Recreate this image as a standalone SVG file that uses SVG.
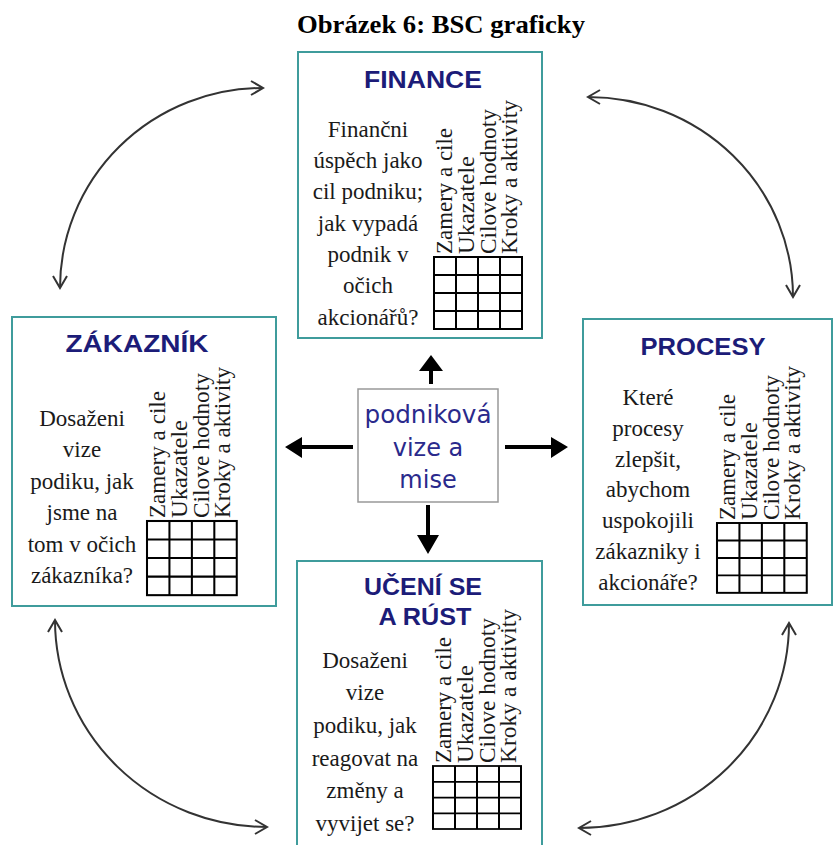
<svg xmlns="http://www.w3.org/2000/svg" width="835" height="845" viewBox="0 0 835 845">
<style>
.box{fill:#fff;stroke:#3f9c9c;stroke-width:2}
.ttl{font-family:"Liberation Sans",Arial,sans-serif;font-weight:bold;font-size:23px;fill:#1c1c78;text-anchor:middle}
.body{font-family:"Liberation Serif","Times New Roman",serif;font-size:23px;fill:#1a1a1a;text-anchor:middle}
.vt{font-family:"Liberation Serif","Times New Roman",serif;font-size:24px;fill:#1a1a1a}
.grid{fill:none;stroke:#000;stroke-width:2}
.cen{font-family:"DejaVu Sans",Verdana,sans-serif;font-size:24px;fill:#2a2a8c;text-anchor:middle}
.curve{fill:none;stroke:#333;stroke-width:2}
.blk{fill:#000}
.cap{font-family:"Liberation Serif","Times New Roman",serif;font-weight:bold;font-size:26px;fill:#000;text-anchor:middle}
</style>
<defs>
<marker id="v" markerUnits="userSpaceOnUse" markerWidth="16" markerHeight="16" viewBox="0 0 16 16" refX="14" refY="8" orient="auto-start-reverse">
<path d="M2,1 L14,8 L2,15" fill="none" stroke="#333" stroke-width="2"/>
</marker>
<g id="tbl">
<rect class="grid" x="0" y="0" width="88" height="72"/>
<path class="grid" d="M22,0V72M44,0V72M66,0V72M0,18H88M0,36H88M0,54H88"/>
</g>
</defs>
<rect width="835" height="845" fill="#fff"/>
<text class="cap" x="441" y="33" textLength="288" lengthAdjust="spacingAndGlyphs">Obrázek 6: BSC graficky</text>

<g id="connectors">
<path class="curve" d="M60,288 A203,200 0 0 1 263,88" marker-start="url(#v)" marker-end="url(#v)"/>
<path class="curve" d="M588,97 A205,200 0 0 1 793,297" marker-start="url(#v)" marker-end="url(#v)"/>
<path class="curve" d="M55,620 A212,207 0 0 0 267,827" marker-start="url(#v)" marker-end="url(#v)"/>
<path class="curve" d="M789,623 A210,205 0 0 1 579,828" marker-start="url(#v)" marker-end="url(#v)"/>
<polygon class="blk" points="429,384 433,384 433,371 443,371 431,355 419,371 429,371"/>
<polygon class="blk" points="353,445 353,449 302,449 302,458 285,447 302,437 302,445"/>
<polygon class="blk" points="505,445 505,449 551,449 551,458 568,447 551,437 551,445"/>
<polygon class="blk" points="426,505 430,505 430,535 439,535 428,554 417,535 426,535"/>
</g>

<g id="finance">
<rect class="box" x="298" y="52" width="244" height="286"/>
<text class="ttl" x="423" y="88" textLength="118" lengthAdjust="spacingAndGlyphs">FINANCE</text>
<text class="body" x="368" y="137">Finančni</text>
<text class="body" x="368" y="168">úspěch jako</text>
<text class="body" x="368" y="199">cil podniku;</text>
<text class="body" x="368" y="231">jak vypadá</text>
<text class="body" x="368" y="262">podnik v</text>
<text class="body" x="368" y="293">očich</text>
<text class="body" x="368" y="325">akcionářů?</text>
<text class="vt" transform="translate(452,254) rotate(-90)" textLength="126" lengthAdjust="spacingAndGlyphs">Zamery a cile</text>
<text class="vt" transform="translate(474,254) rotate(-90)" textLength="98" lengthAdjust="spacingAndGlyphs">Ukazatele</text>
<text class="vt" transform="translate(496,254) rotate(-90)" textLength="145" lengthAdjust="spacingAndGlyphs">Cilove hodnoty</text>
<text class="vt" transform="translate(517,254) rotate(-90)" textLength="154" lengthAdjust="spacingAndGlyphs">Kroky a aktivity</text>
<use href="#tbl" transform="translate(434,257)"/>
</g>

<g id="zakaznik">
<rect class="box" x="12" y="317" width="264" height="289"/>
<text class="ttl" x="137" y="352" textLength="143" lengthAdjust="spacingAndGlyphs">ZÁKAZNÍK</text>
<text class="body" x="82" y="426">Dosaženi</text>
<text class="body" x="82" y="457">vize</text>
<text class="body" x="82" y="489">podiku, jak</text>
<text class="body" x="82" y="520">jsme na</text>
<text class="body" x="82" y="552">tom v očich</text>
<text class="body" x="82" y="583">zákazníka?</text>
<text class="vt" transform="translate(165,518) rotate(-90)" textLength="127" lengthAdjust="spacingAndGlyphs">Zamery a cile</text>
<text class="vt" transform="translate(187,518) rotate(-90)" textLength="98" lengthAdjust="spacingAndGlyphs">Ukazatele</text>
<text class="vt" transform="translate(209,518) rotate(-90)" textLength="145" lengthAdjust="spacingAndGlyphs">Cilove hodnoty</text>
<text class="vt" transform="translate(230,518) rotate(-90)" textLength="151" lengthAdjust="spacingAndGlyphs">Kroky a aktivity</text>
<use href="#tbl" transform="translate(147,521) scale(1.02,1.03)"/>
</g>

<g id="procesy">
<rect class="box" x="583" y="319" width="249" height="286"/>
<text class="ttl" x="703" y="355" textLength="125" lengthAdjust="spacingAndGlyphs">PROCESY</text>
<text class="body" x="648" y="405">Které</text>
<text class="body" x="648" y="436">procesy</text>
<text class="body" x="648" y="467">zlepšit,</text>
<text class="body" x="648" y="497">abychom</text>
<text class="body" x="648" y="528">uspokojili</text>
<text class="body" x="648" y="559">zákazniky i</text>
<text class="body" x="648" y="590">akcionáře?</text>
<text class="vt" transform="translate(735,520) rotate(-90)" textLength="126" lengthAdjust="spacingAndGlyphs">Zamery a cile</text>
<text class="vt" transform="translate(757,520) rotate(-90)" textLength="98" lengthAdjust="spacingAndGlyphs">Ukazatele</text>
<text class="vt" transform="translate(779,520) rotate(-90)" textLength="145" lengthAdjust="spacingAndGlyphs">Cilove hodnoty</text>
<text class="vt" transform="translate(800,520) rotate(-90)" textLength="154" lengthAdjust="spacingAndGlyphs">Kroky a aktivity</text>
<use href="#tbl" transform="translate(717,523) scale(1.02,0.97)"/>
</g>

<g id="uceni">
<rect class="box" x="297" y="561" width="245" height="295"/>
<text class="ttl" x="423" y="595" textLength="118" lengthAdjust="spacingAndGlyphs">UČENÍ SE</text>
<text class="ttl" x="425" y="625" textLength="93" lengthAdjust="spacingAndGlyphs">A RÚST</text>
<text class="body" x="365" y="668">Dosaženi</text>
<text class="body" x="365" y="700">vize</text>
<text class="body" x="365" y="733">podiku, jak</text>
<text class="body" x="365" y="766">reagovat na</text>
<text class="body" x="365" y="798">změny a</text>
<text class="body" x="365" y="831">vyvijet se?</text>
<text class="vt" transform="translate(451,763) rotate(-90)" textLength="126" lengthAdjust="spacingAndGlyphs">Zamery a cile</text>
<text class="vt" transform="translate(473,763) rotate(-90)" textLength="98" lengthAdjust="spacingAndGlyphs">Ukazatele</text>
<text class="vt" transform="translate(495,763) rotate(-90)" textLength="145" lengthAdjust="spacingAndGlyphs">Cilove hodnoty</text>
<text class="vt" transform="translate(516,763) rotate(-90)" textLength="154" lengthAdjust="spacingAndGlyphs">Kroky a aktivity</text>
<use href="#tbl" transform="translate(433,766) scale(1,0.875)"/>
</g>

<g id="vize">
<rect x="358" y="389" width="140" height="113" fill="#fff" stroke="#999" stroke-width="1.5"/>
<text class="cen" x="428" y="423" textLength="127" lengthAdjust="spacingAndGlyphs">podniková</text>
<text class="cen" x="428" y="456">vize a</text>
<text class="cen" x="428" y="488">mise</text>
</g>
</svg>
